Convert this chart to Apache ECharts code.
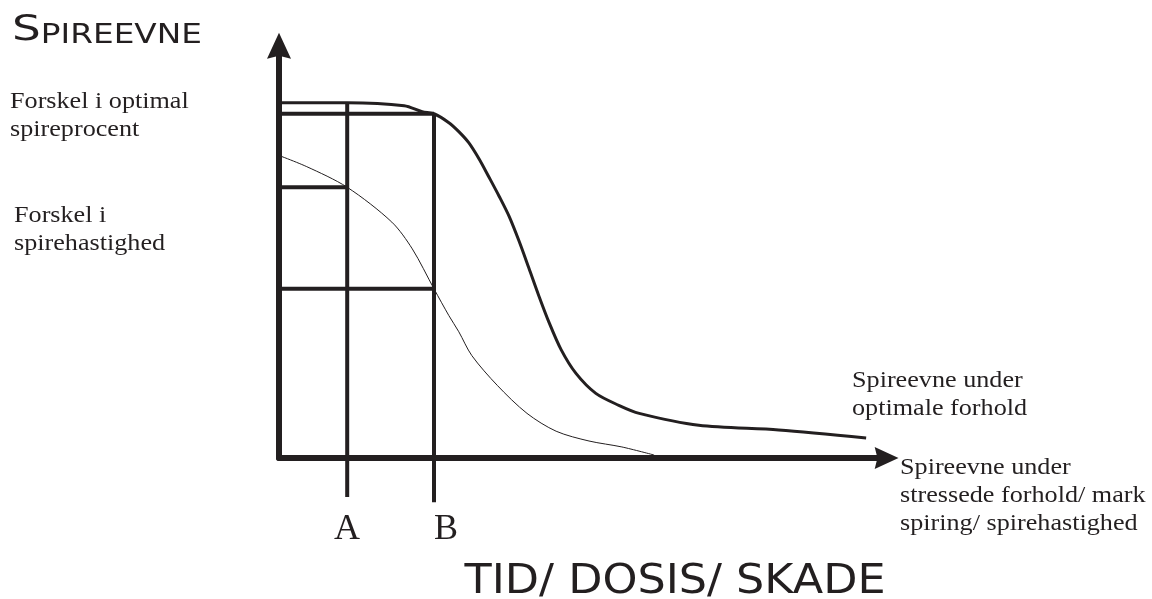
<!DOCTYPE html>
<html>
<head>
<meta charset="utf-8">
<title>Spireevne</title>
<script src="https://cdn.jsdelivr.net/npm/echarts@6/dist/echarts.min.js"></script>
<style>
  html, body { margin: 0; padding: 0; background: #fff; }
  #chart { width: 1152px; height: 599px; }
</style>
</head>
<body>
<div id="chart"></div>
<script>
// kurver (x: tid/dosis/skade, y: spireevne)
var optimalCurve = [
  [0.3, 83.6], [11.0, 83.6], [20.2, 82.9], [23.1, 81.5], [25.0, 81.0],
  [27.4, 78.9], [29.0, 76.8], [30.6, 74.2], [32.3, 70.3], [33.9, 66.0],
  [35.5, 61.6], [37.1, 56.9], [38.7, 51.1], [40.3, 44.7], [41.9, 38.2],
  [43.5, 32.1], [45.5, 25.5], [47.9, 19.9], [51.1, 15.2], [54.8, 12.4],
  [58.1, 10.5], [67.7, 7.7], [80.6, 6.6], [94.7, 4.7]
]
var stressCurve = [
  [-1.3, 71.9], [4.4, 68.6], [11.0, 63.7], [18.2, 55.5], [21.5, 49.2],
  [25.0, 39.8], [27.4, 33.5], [29.0, 29.7], [31.1, 24.1], [35.2, 17.1],
  [40.0, 10.5], [44.7, 6.3], [50.0, 4.0], [55.3, 2.6], [60.5, 0.7]
]
// hjælpelinjer ved A og B
var guideA = [[11.0, 83.6], [11.0, -9.2]]
var guideB = [[25.0, 81.0], [25.0, -10.4]]
var levelOptimalB = [[0, 81.0], [25.0, 81.0]]
var levelStressA = [[0, 63.7], [11.0, 63.7]]
var levelStressB = [[0, 39.8], [25.0, 39.8]]
var pointLabels = ['A', 'B']

var ink = '#231f20'
var arrowPath = 'path://M12,0 L24,26 L12,23 L0,26 Z'
var chart = echarts.init(document.getElementById('chart'))

function guide(data) {
  return {
    type: 'line',
    data: data,
    symbol: 'none',
    clip: false,
    silent: true,
    lineStyle: { color: ink, width: 4 }
  }
}

// tekst i Times-agtig skrift, lidt strakt i bredden som i originalen
function note(x, y, text) {
  return {
    type: 'text', x: x, y: y, scaleX: 1.09,
    style: { text: text, fill: ink, font: '24px "Liberation Serif"', lineHeight: 28, align: 'left', verticalAlign: 'top' }
  }
}

chart.setOption({
  animation: false,
  // pilespidserne sidder centreret på aksens ende
  grid: { left: 279, right: 265.4, top: 45.75, bottom: 141 },
  xAxis: {
    type: 'value',
    min: 0,
    max: 98,
    axisLine: {
      symbol: ['none', arrowPath],
      symbolSize: [22, 26],
      lineStyle: { color: ink, width: 6 }
    },
    axisTick: { show: false },
    axisLabel: { show: false },
    splitLine: { show: false }
  },
  yAxis: {
    type: 'value',
    min: 0,
    max: 97,
    axisLine: {
      show: true,
      symbol: ['none', arrowPath],
      symbolSize: [25, 26],
      lineStyle: { color: ink, width: 6 }
    },
    axisTick: { show: false },
    axisLabel: { show: false },
    splitLine: { show: false }
  },
  series: [
    guide(guideA),
    guide(guideB),
    guide(levelOptimalB),
    guide(levelStressA),
    guide(levelStressB),
    {
      name: 'Spireevne under optimale forhold',
      type: 'line',
      data: optimalCurve,
      smooth: 0.3,
      symbol: 'none',
      clip: false,
      lineStyle: { color: ink, width: 3 }
    },
    {
      name: 'Spireevne under stressede forhold',
      type: 'line',
      data: stressCurve,
      smooth: 0.3,
      symbol: 'none',
      clip: false,
      lineStyle: { color: ink, width: 1 }
    }
  ],
  graphic: [
    {
      type: 'text', x: 12, y: 49, scaleX: 1.26,
      style: {
        text: '{a|S}{b|PIREEVNE}',
        align: 'left',
        verticalAlign: 'bottom',
        rich: {
          a: { fill: ink, font: '36px "DejaVu Sans"', lineHeight: 36, verticalAlign: 'bottom' },
          b: { fill: ink, font: '26px "DejaVu Sans"', lineHeight: 36, verticalAlign: 'bottom' }
        }
      }
    },
    note(10, 88, 'Forskel i optimal\nspireprocent'),
    note(14, 202, 'Forskel i\nspirehastighed'),
    note(852, 367, 'Spireevne under\noptimale forhold'),
    note(900, 454, 'Spireevne under\nstressede forhold/ mark\nspiring/ spirehastighed'),
    { type: 'text', x: 347, y: 530, style: { text: pointLabels[0], fill: ink, font: '36px "Liberation Serif"', align: 'center', verticalAlign: 'middle' } },
    { type: 'text', x: 446, y: 530, style: { text: pointLabels[1], fill: ink, font: '36px "Liberation Serif"', align: 'center', verticalAlign: 'middle' } },
    { type: 'text', x: 675, y: 582, scaleX: 1.085, style: { text: 'TID/ DOSIS/ SKADE', fill: ink, font: '41px "DejaVu Sans"', align: 'center', verticalAlign: 'middle' } }
  ]
})
</script>
</body>
</html>
